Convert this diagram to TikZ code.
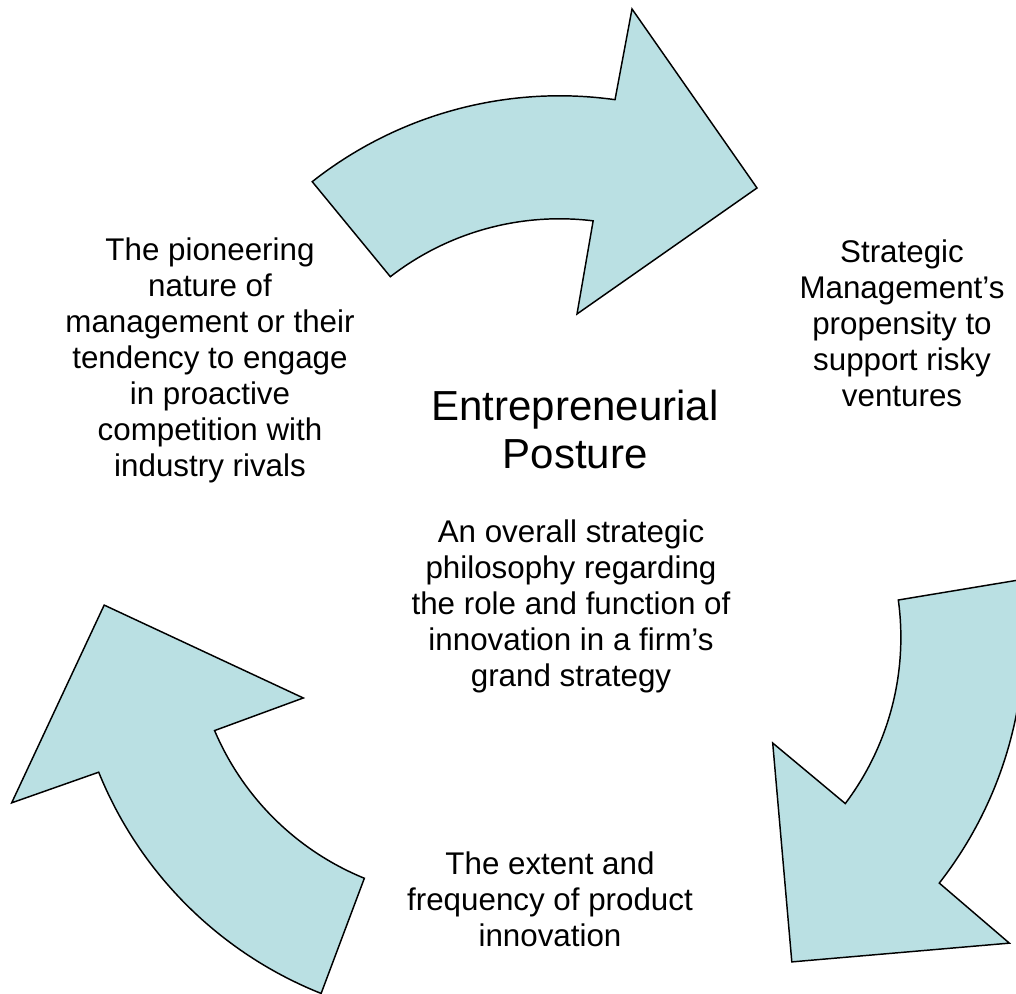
\documentclass[tikz,border=0pt]{standalone}
\usepackage{fontspec}
\setmainfont{Liberation Sans}
\definecolor{arrowfill}{RGB}{186,224,227}
\tikzset{
  bigarrow/.style={fill=arrowfill, draw=black, line width=1.1pt, line join=miter},
  label/.style={align=center, inner sep=0pt, font=\fontsize{23.5pt}{27pt}\selectfont},
  title/.style={align=center, inner sep=0pt, font=\fontsize{31.5pt}{36pt}\selectfont},
}
% one curved arrow, drawn relative to the cycle centre
\newcommand{\cyclearrow}[1]{%
  \begin{scope}[shift={(551,409)}, rotate=#1]
    \draw[bigarrow]
      plot[domain=128.3:82, samples=60] ({8.5+399*cos(\x)}, {90.2+399*sin(\x)})
      -- (81,576) -- (206,397) -- (26,271)
      -- plot[domain=83:127.8, samples=60] ({8.5+276*cos(\x)}, {90.2+276*sin(\x)})
      -- cycle;
  \end{scope}}
\begin{document}
\begin{tikzpicture}[x=0.75pt, y=0.75pt]
  \useasboundingbox (0,0) rectangle (1016,994);
  \clip (0,0) rectangle (1016,994);
  \fill[white] (0,0) rectangle (1016,994);

  \cyclearrow{0}
  \cyclearrow{-120}
  \cyclearrow{120}

  \node[label] (pro) at (210,634) {The pioneering\\nature of\\management or their\\tendency to engage\\in proactive\\competition with\\industry rivals};
  \node[label] (risk) at (902,671) {Strategic\\Management’s\\propensity to\\support risky\\ventures};
  \node[title] (ep) at (575,565) {Entrepreneurial\\Posture};
  \node[label] (phil) at (571,388) {An overall strategic\\philosophy regarding\\the role and function of\\innovation in a firm’s\\grand strategy};
  \node[label] (inno) at (550,95) {The extent and\\frequency of product\\innovation};
\end{tikzpicture}
\end{document}
